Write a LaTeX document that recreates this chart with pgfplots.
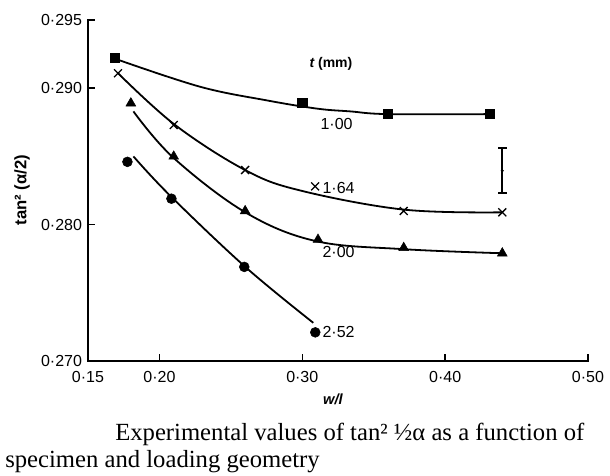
\documentclass[border=0pt]{standalone}
\usepackage{pgfplots}
\pgfplotsset{compat=1.18}
\usepackage{fontspec}
\setmainfont{Liberation Sans}
\newfontfamily\capfont{Liberation Serif}
\begin{document}
\begin{tikzpicture}
\useasboundingbox (-66pt,-85.5pt) rectangle (391.5pt,270.75pt);
\begin{axis}[
  at={(0pt,0pt)}, anchor=origin,
  scale only axis, width=375pt, height=255.75pt,
  xmin=0.15, xmax=0.50, ymin=0.270, ymax=0.295,
  axis lines*=left,
  axis line style={line width=1.7pt, line cap=rect},
  tick align=inside, major tick length=5pt,
  tick style={line width=1.1pt, black},
  xtick={0.15,0.20,0.30,0.40,0.50},
  xticklabels={0·15,0·20,0·30,0·40,0·50},
  ytick={0.270,0.280,0.290,0.295},
  yticklabels={0·270,0·280,0·290,0·295},
  tick label style={font=\fontsize{12}{14}\selectfont},
  xticklabel style={yshift=-4pt},
  yticklabel style={xshift=-1pt},
  clip=false,
]
% curves
\addplot[line width=1.35pt, smooth, tension=0.6] coordinates {
 (0.1706,0.2921) (0.2287,0.2901) (0.2755,0.2891) (0.3105,0.2885) (0.3336,0.2883) (0.3601,0.2881) (0.4315,0.2881)};
\addplot[line width=1.35pt, smooth, tension=0.6] coordinates {
 (0.171,0.2911) (0.211,0.2873) (0.260,0.2840) (0.2986,0.2825) (0.371,0.2811) (0.440,0.2809)};
\addplot[line width=1.35pt, smooth, tension=0.6] coordinates {
 (0.1818,0.2883) (0.2098,0.2849) (0.2601,0.2809) (0.3091,0.2788) (0.3706,0.2782) (0.4398,0.2779)};
\addplot[line width=1.35pt, smooth, tension=0.6] coordinates {
 (0.1818,0.2850) (0.2077,0.2821) (0.2601,0.2769) (0.3077,0.2728)};
% markers
\addplot[only marks, mark=square*, mark size=3.4pt, black] coordinates {
 (0.169,0.2922) (0.300,0.2889) (0.360,0.2881) (0.431,0.2881)};
\addplot[only marks, mark=x, mark size=4.2pt, black, mark options={line width=1pt}] coordinates {
 (0.171,0.2911) (0.210,0.2873) (0.260,0.2840) (0.309,0.2828) (0.371,0.2810) (0.440,0.2809)};
\addplot[only marks, mark=triangle*, mark size=4.2pt, black] coordinates {
 (0.180,0.2889) (0.210,0.2850) (0.260,0.2810) (0.311,0.2789) (0.371,0.2783) (0.440,0.2779)};
\addplot[only marks, mark=*, mark size=3.7pt, black] coordinates {
 (0.1776,0.2846) (0.2084,0.2819) (0.2594,0.2769) (0.3091,0.2721)};
% error bar
\addplot[black, line width=1.3pt] coordinates {(0.440,0.2856) (0.440,0.2823)};
\addplot[only marks, black, mark=-, mark size=3.2pt, mark options={line width=1.3pt}] coordinates {(0.440,0.2856) (0.440,0.2823)};
\addplot[only marks, black, mark=*, mark size=0.9pt] coordinates {(0.440,0.28395)};
% labels
\node[anchor=west, font=\fontsize{12}{14}\selectfont, inner sep=0pt] at (axis cs:0.3126,0.2874) {1·00};
\node[anchor=west, font=\fontsize{12}{14}\selectfont, inner sep=0pt] at (axis cs:0.3140,0.2827) {1·64};
\node[anchor=west, font=\fontsize{12}{14}\selectfont, inner sep=0pt] at (axis cs:0.3140,0.2780) {2·00};
\node[anchor=west, font=\fontsize{12}{14}\selectfont, inner sep=0pt] at (axis cs:0.3140,0.2721) {2·52};
\node[anchor=west, font=\bfseries\fontsize{10.5}{12}\selectfont, inner sep=0pt] at (axis cs:0.3049,0.2918) {\itshape t\upshape\ (mm)};
\node[rotate=90, font=\bfseries\fontsize{12.5}{14}\selectfont] at (axis description cs:-0.132,0.501) {tan² (α/2)};
\node[font=\bfseries\itshape\fontsize{11}{13}\selectfont] at (axis description cs:0.49,-0.111) {w/l};
\end{axis}
\node[anchor=base west, inner sep=0pt, font=\capfont\fontsize{18.5}{22}\selectfont] at (20.25pt,-59.25pt) {Experimental values of tan² ½α as a function of};
\node[anchor=base west, inner sep=0pt, font=\capfont\fontsize{18.5}{22}\selectfont] at (-62.25pt,-79.5pt) {specimen and loading geometry};
\end{tikzpicture}
\end{document}
